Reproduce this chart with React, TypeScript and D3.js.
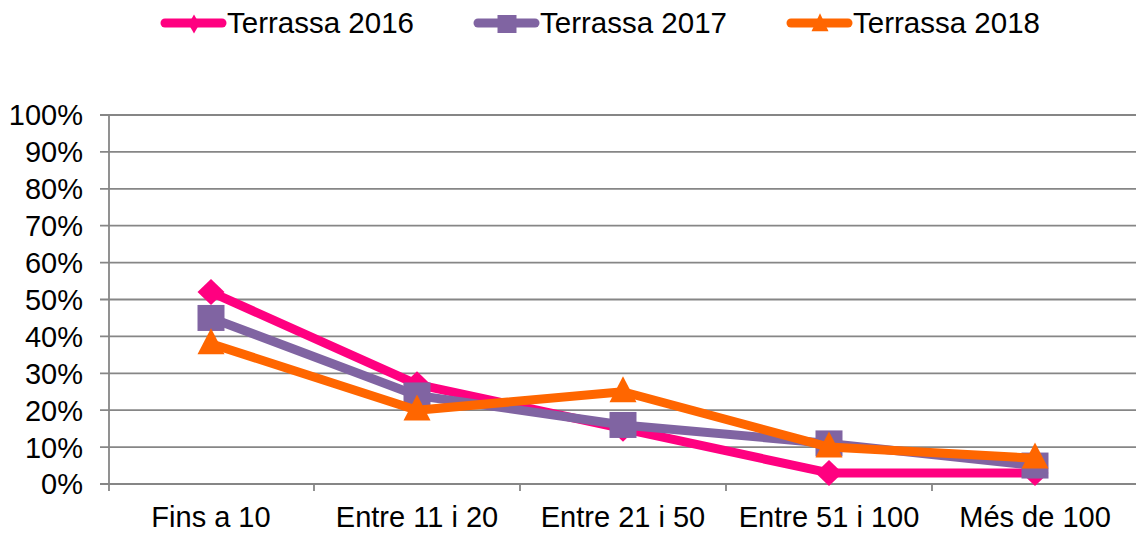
import React from 'react';
import * as d3 from 'd3';

const categories = ['Fins a 10', 'Entre 11 i 20', 'Entre 21 i 50', 'Entre 51 i 100', 'Més de 100'];
const yTicks = [0, 0.1, 0.2, 0.3, 0.4, 0.5, 0.6, 0.7, 0.8, 0.9, 1];
const values2016 = [0.52, 0.27, 0.15, 0.03, 0.03];
const values2017 = [0.45, 0.24, 0.16, 0.11, 0.05];
const values2018 = [0.38, 0.2, 0.25, 0.1, 0.07];

const series = [
  { name: 'Terrassa 2016', values: values2016, color: '#FF0080', marker: 'diamond' },
  { name: 'Terrassa 2017', values: values2017, color: '#8064A2', marker: 'square' },
  { name: 'Terrassa 2018', values: values2018, color: '#FF6600', marker: 'triangle' },
];

const W = 1136;
const H = 536;
const font = '"Liberation Sans", Arial, sans-serif';

// w, h = full marker width / height
function Marker({ type, x, y, color, w, h }: { type: string; x: number; y: number; color: string; w: number; h: number }) {
  const pts =
    type === 'diamond'
      ? [[x, y - h / 2], [x + w / 2, y], [x, y + h / 2], [x - w / 2, y]]
      : type === 'square'
      ? [[x - w / 2, y - h / 2], [x + w / 2, y - h / 2], [x + w / 2, y + h / 2], [x - w / 2, y + h / 2]]
      : [[x, y - h * 0.6], [x + w / 2, y + h * 0.4], [x - w / 2, y + h * 0.4]];
  return <polygon points={pts.map((p) => p.join(',')).join(' ')} fill={color} />;
}

const legendSize: Record<string, [number, number]> = { diamond: [11, 19], square: [19, 18], triangle: [17, 18] };

export default function App() {
  const x = d3.scaleBand().domain(categories).range([108, 1138]);
  const y = d3.scaleLinear().domain([0, 1]).range([484, 115]);
  const cx = (i: number) => (x(categories[i]) as number) + x.bandwidth() / 2;
  const line = d3
    .line<number>()
    .x((_, i) => cx(i))
    .y((d) => y(d));

  const legendX = [165, 478, 791];

  return (
    <svg width={W} height={H} style={{ position: 'absolute', left: 0, top: 0, background: '#fff' }}>
      {yTicks.map((t) => (
        <g key={t}>
          <line x1={100} x2={W} y1={y(t)} y2={y(t)} stroke="#868686" strokeWidth={1.8} />
          <text x={83} y={y(t)} dy="0.36em" textAnchor="end" fontFamily={font} fontSize={29} fill="#000">
            {d3.format('.0%')(t)}
          </text>
        </g>
      ))}
      <line x1={109} x2={109} y1={y(1)} y2={491} stroke="#868686" strokeWidth={1.8} />
      {categories.map((c, i) => (
        <g key={c}>
          <line
            x1={(x(c) as number) + x.bandwidth()}
            x2={(x(c) as number) + x.bandwidth()}
            y1={484}
            y2={491}
            stroke="#868686"
            strokeWidth={1.8}
          />
          <text x={cx(i)} y={527} textAnchor="middle" fontFamily={font} fontSize={29} fill="#000">
            {c}
          </text>
        </g>
      ))}
      {series.map((s) => (
        <g key={s.name}>
          <path d={line(s.values) || ''} fill="none" stroke={s.color} strokeWidth={9} strokeLinejoin="round" />
          {s.values.map((v, i) => (
            <Marker key={i} type={s.marker} x={cx(i)} y={y(v)} color={s.color} w={27} h={26} />
          ))}
        </g>
      ))}
      {series.map((s, i) => (
        <g key={s.name + 'leg'}>
          <line
            x1={legendX[i]}
            x2={legendX[i] + 57}
            y1={23}
            y2={23}
            stroke={s.color}
            strokeWidth={9}
            strokeLinecap="round"
          />
          <Marker
            type={s.marker}
            x={legendX[i] + 29}
            y={24}
            color={s.color}
            w={legendSize[s.marker][0]}
            h={legendSize[s.marker][1]}
          />
          <text x={legendX[i] + 62} y={33} fontFamily={font} fontSize={29.5} fill="#000">
            {s.name}
          </text>
        </g>
      ))}
    </svg>
  );
}
